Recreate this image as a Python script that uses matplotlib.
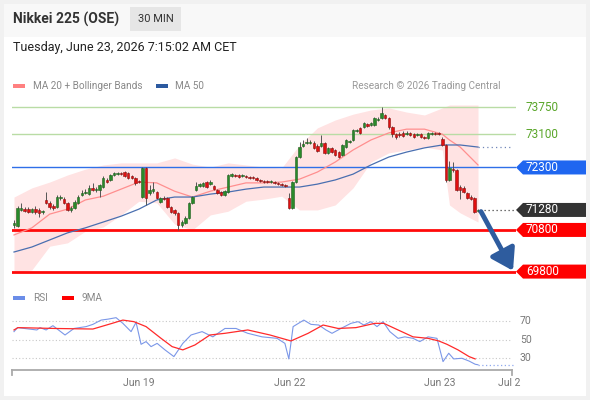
import matplotlib
matplotlib.use('Agg')
import matplotlib.pyplot as plt
from matplotlib.patches import Rectangle, Polygon
from matplotlib.lines import Line2D

plt.rcParams['font.family'] = ['Roboto', 'DejaVu Sans']

# ---------------- data ----------------
opens = [70920, 70890, 71280, 71300, 71300, 71230, 71300, 71280, 71230, 71520,
         71450, 71370, 71350, 71570, 71540, 71450, 71280, 71330, 71450, 71640,
         71690, 71660, 71810, 71760, 71760, 71830, 72000, 72000, 72120, 72140,
         72170, 72190, 72170, 72090, 72050, 71970, 71590, 72290, 71690, 71730,
         71710, 71470, 71570, 71570, 71350, 71280, 71210, 70920, 70970, 71090,
         71450, 71760, 71850, 71850, 71950, 71900, 71850, 71760, 71710, 71640,
         71710, 72090, 72120, 72120, 72090, 72090, 72070, 72070, 72050, 72000,
         71970, 71970, 71950, 71950, 71930, 71900, 71880, 71570, 71330, 71950,
         72550, 72810, 72890, 72890, 72890, 72810, 72810, 72890, 72650, 72770,
         72720, 72670, 72600, 72790, 72910, 72960, 73170, 73250, 73270, 73340,
         73320, 73320, 73440, 73490, 73560, 73490, 73270, 73100, 73100, 73130,
         73100, 73130, 73100, 73080, 73100, 73030, 73010, 73100, 73130, 73130,
         72980, 72840, 72000, 72260, 72240, 71830, 71810, 71690, 71590, 71570,
         71250]
closes = [70970, 71330, 71330, 71250, 71230, 71300, 71230, 71210, 71250, 71450,
          71350, 71330, 71590, 71590, 71450, 71280, 71330, 71470, 71590, 71690,
          71710, 71810, 71760, 71780, 71880, 72050, 71950, 72120, 72170, 72170,
          72140, 72090, 72050, 72050, 71930, 71950, 72290, 71570, 71760, 71780,
          71570, 71570, 71540, 71350, 71230, 71210, 70920, 70990, 71090, 71450,
          71590, 71850, 71900, 71930, 71830, 71950, 71780, 71690, 71640, 71730,
          72120, 72140, 72090, 72070, 72120, 72070, 72050, 72050, 72000, 71970,
          71950, 71950, 71970, 71930, 71900, 71880, 71850, 71330, 71950, 72550,
          72790, 72860, 72910, 72910, 72770, 72690, 72890, 72650, 72770, 72670,
          72600, 72550, 72840, 72960, 72930, 73200, 73200, 73130, 73370, 73290,
          73370, 73490, 73460, 73610, 73490, 73270, 73100, 73030, 73080, 73050,
          73130, 73080, 73030, 73100, 73030, 73010, 73130, 73130, 73100, 73100,
          72840, 72000, 72290, 72240, 71760, 71760, 71710, 71570, 71540, 71230,
          71280]
highs = [71040, 71370, 71450, 71350, 71350, 71330, 71370, 71330, 71280, 71710,
         71490, 71420, 71640, 71640, 71590, 71470, 71370, 71520, 71640, 71760,
         71780, 71880, 71930, 71830, 71900, 72090, 72050, 72140, 72190, 72190,
         72190, 72210, 72190, 72120, 72070, 72000, 72310, 72310, 71880, 71950,
         71730, 71590, 71610, 71590, 71370, 71300, 71230, 71040, 71130, 71470,
         71610, 71950, 71930, 71950, 71970, 72000, 71880, 71780, 71730, 71760,
         72140, 72170, 72140, 72140, 72140, 72120, 72090, 72090, 72070, 72020,
         72000, 72000, 72000, 71970, 71950, 71930, 71900, 71690, 71970, 72570,
         72910, 72960, 73010, 72960, 72930, 72860, 73080, 72910, 72790, 72790,
         72740, 72690, 72860, 72980, 72960, 73220, 73220, 73270, 73390, 73370,
         73390, 73510, 73510, 73750, 73580, 73510, 73290, 73130, 73150, 73170,
         73170, 73150, 73130, 73130, 73130, 73050, 73150, 73150, 73150, 73150,
         73030, 72860, 72450, 72430, 72260, 71880, 71850, 71710, 71640, 71590,
         71300]
lows = [70850, 70870, 71250, 71230, 71210, 71210, 71180, 71110, 71180, 71420,
        71300, 71280, 71330, 71520, 71420, 71250, 71230, 71300, 71420, 71610,
        71660, 71640, 71730, 71710, 71590, 71810, 71930, 71970, 72090, 72120,
        72120, 72070, 72020, 72020, 71880, 71930, 71570, 71400, 71640, 71690,
        71540, 71450, 71520, 71330, 71210, 71160, 70800, 70870, 70940, 71060,
        71420, 71730, 71830, 71830, 71810, 71880, 71760, 71660, 71610, 71610,
        71690, 72070, 72070, 72050, 72070, 72050, 72020, 72020, 71970, 71950,
        71930, 71930, 71930, 71900, 71880, 71850, 71830, 71300, 71300, 71930,
        72530, 72790, 72860, 72860, 72740, 72670, 72790, 72620, 72620, 72650,
        72570, 72530, 72570, 72770, 72890, 72930, 73150, 73100, 73250, 73270,
        73290, 73290, 73410, 73460, 73460, 73220, 73030, 72980, 73030, 73030,
        73080, 73050, 73010, 73050, 73010, 72980, 72980, 73080, 73080, 73080,
        72810, 71950, 71970, 72190, 71730, 71540, 71690, 71540, 71520, 71210,
        71230]

band_idx = [0, 5, 10, 15, 20, 25, 30, 35, 40, 45, 50, 55, 60, 65, 70, 75, 80,
            85, 90, 95, 100, 105, 110, 115, 120, 122, 125, 130]
ma20 = [70680, 70850, 71180, 71300, 71520, 71610, 71780, 71950, 71930, 71730,
        71590, 71730, 71830, 71930, 71930, 71950, 72020, 72190, 72430, 72720,
        72960, 73130, 73220, 73220, 73100, 72960, 72790, 72360]
ma50 = [70270, 70390, 70560, 70730, 70850, 70990, 71130, 71300, 71520, 71590,
        71590, 71660, 71710, 71780, 71830, 71830, 71830, 71900, 72000, 72140,
        72360, 72550, 72670, 72770, 72840, 72840, 72840, 72790]
bb_upper = [71590, 71810, 71950, 72120, 72260, 72360, 72410, 72410, 72410, 72530,
            72380, 72310, 72410, 72360, 72310, 72290, 72840, 73250, 73440, 73580,
            73680, 73730, 73630, 73560, 73730, 73800, 73800, 73800]
bb_lower = [69770, 69840, 70410, 70490, 70770, 70870, 71160, 71490, 71450, 70940,
            70800, 71160, 71250, 71490, 71540, 71610, 71280, 71280, 71400, 71810,
            72430, 72650, 72720, 72790, 72720, 71400, 71210, 70990]

rsi_idx = [0, 1, 4.2, 6.4, 7.3, 9, 10.9, 14.3, 16.8, 20.2, 22.1, 24.4, 26.3, 28.6,
           30.5, 32.8, 34.2, 35.6, 37, 38.4, 40.1, 42.3, 44.8, 47.3, 49.6, 52.7,
           55.7, 59.1, 62.2, 65.5, 69.5, 73.7, 75.9, 77, 78.2, 81.2, 83.2, 85.4,
           87.4, 89.1, 91.6, 94.4, 96.4, 98, 100, 101.7, 103.4, 105.3, 107.6,
           109.5, 111.8, 113.7, 116, 118.5, 120.2, 121.8, 123.2, 125.5, 127.5,
           129.2, 130]
rsi_vals = [58.6, 62.9, 61.4, 60.4, 62.9, 60.4, 65, 55, 62, 64, 66.4, 71, 72, 73.6,
            67.5, 58.6, 68.6, 45, 47.9, 42.5, 46, 39, 31.8, 46, 55, 58.6, 53, 62,
            62, 56.8, 53, 51.4, 46, 29.3, 64, 71, 66.4, 65.7, 60.4, 56.8, 62, 67.5,
            69.3, 65.7, 69.3, 64, 69.3, 58.6, 51.4, 53, 51.4, 47.9, 53, 51.4, 26.4,
            35.4, 29.3, 30, 27, 23.6, 23]
rsi_ma_idx = [0, 1.1, 11.5, 22.1, 27.5, 30.5, 33.6, 37, 41.2, 44.3, 47.3, 50.7,
              54.9, 59.1, 65.5, 71.7, 77.6, 82.4, 86.6, 90.8, 95.8, 101.1, 103.6,
              107.6, 111.8, 116, 119, 121.3, 124.4, 127.5, 129.2]
rsi_ma_vals = [60.4, 62.9, 62, 61.4, 67.5, 71, 69.3, 64, 51.4, 42.5, 39, 44.3, 55,
               56.8, 60.4, 55, 48.6, 56.8, 65.7, 62, 62.9, 67.5, 67.5, 60.4, 53,
               51.4, 48.6, 45, 39, 31.8, 29.3]

resist_levels = [73750, 73100]
pivot_level = 72300
support_levels = [70800, 69800]
last_price = 71280
rsi_levels = [70, 50, 30]
date_labels = ['Jun 19', 'Jun 22', 'Jun 23', 'Jul 2']
date_pos = [35, 77.3, 119.4, 138.7]

# ---------------- layout ----------------
W, H = 590, 400
fig = plt.figure(figsize=(W / 100, H / 100), dpi=100)
fig.patch.set_facecolor('#f1f1f1')


def fx(px):
    return px / W


def fy(py):
    return 1 - py / H


fig.add_artist(Rectangle((fx(4), fy(396)), fx(582), (396 - 37) / H,
                         transform=fig.transFigure, facecolor='white', lw=0, zorder=0))
fig.add_artist(Rectangle((fx(4), fy(37)), fx(582), 33 / H,
                         transform=fig.transFigure, facecolor='#f8f8f8', lw=0, zorder=0))

fig.text(fx(13), fy(19), 'Nikkei 225 (OSE)', fontsize=10, fontweight='bold',
         color='#333333', va='center', ha='left')
fig.add_artist(Rectangle((fx(130), fy(31)), fx(51), 24 / H, transform=fig.transFigure,
                         facecolor='#e6e6e6', lw=0, zorder=1))
fig.text(fx(155.5), fy(19), '30 MIN', fontsize=8, color='#333333', va='center', ha='center')
fig.text(fx(13), fy(48), 'Tuesday, June 23, 2026 7:15:02 AM CET', fontsize=9,
         color='#222222', va='center', ha='left')

# legends
fig.add_artist(Rectangle((fx(13), fy(88)), fx(12), 4 / H, transform=fig.transFigure,
                         facecolor='#ff8080', lw=0))
fig.text(fx(33), fy(86), 'MA 20 + Bollinger Bands', fontsize=7.2, color='#888888', va='center')
fig.add_artist(Rectangle((fx(156), fy(88)), fx(12), 4 / H, transform=fig.transFigure,
                         facecolor='#2c5aa0', lw=0))
fig.text(fx(175), fy(86), 'MA 50', fontsize=7.2, color='#888888', va='center')
fig.text(fx(500), fy(86), 'Research © 2026 Trading Central', fontsize=7.2,
         color='#999999', va='center', ha='right')

fig.add_artist(Rectangle((fx(13), fy(300)), fx(12), 4 / H, transform=fig.transFigure,
                         facecolor='#6b8de8', lw=0))
fig.text(fx(33), fy(298), 'RSI', fontsize=7.2, color='#888888', va='center')
fig.add_artist(Rectangle((fx(62), fy(300)), fx(12), 4 / H, transform=fig.transFigure,
                         facecolor='#ff0000', lw=0))
fig.text(fx(82), fy(298), '9MA', fontsize=7.2, color='#888888', va='center')

N = len(closes)
pitch = (478 - 14) / (N - 1)

# ---------------- main price axes ----------------
ax = fig.add_axes([fx(12), fy(282), (516 - 12) / W, (282 - 95) / H])
ax.set_facecolor('none')
ax.axis('off')
x_left = -(14 - 12) / pitch
x_right = (N - 1) + (516 - 478) / pitch
ax.set_xlim(x_left, x_right)
ax.set_ylim(69550, 74040)

ax.fill_between(band_idx, bb_lower, bb_upper, color='#ffe3e3', lw=0, zorder=0.5)
ax.plot(band_idx, ma20, color='#ff8f8f', lw=0.9, zorder=2)
ax.plot(band_idx, ma50, color='#4a6fb0', lw=0.9, zorder=2)
ax.plot([band_idx[-1], (N - 1) + (513 - 478) / pitch], [ma50[-1]] * 2,
        ls=(0, (1, 2.5)), color='#7086b8', lw=0.9, zorder=2)

for lv in resist_levels:
    ax.axhline(lv, color='#b9dca5', lw=1.0, zorder=1)
ax.axhline(pivot_level, color='#2f6fe8', lw=1.0, zorder=1)
for lv in support_levels:
    ax.axhline(lv, color='#ff0a0a', lw=2.0, zorder=1)

for i in range(N):
    o, c, h, l = opens[i], closes[i], highs[i], lows[i]
    up = c >= o
    body = '#2a8a2a' if up else '#e01010'
    edge = '#1f5f1f' if up else '#8a1010'
    ax.vlines(i, l, h, color='#555555', lw=0.7, zorder=3)
    ax.bar(i, max(abs(c - o), 8), bottom=min(o, c), width=0.7, color=body,
           edgecolor=edge, lw=0.4, zorder=4)

ax.plot([N - 1 + 0.6, x_right], [last_price, last_price], ls=(0, (1, 2.2)),
        color='#444444', lw=0.9, zorder=2)

ax.annotate('', xy=((N - 1) + (513 - 478) / pitch, support_levels[1] + 20),
            xytext=((N - 1) + (481 - 478) / pitch, last_price - 40),
            arrowprops=dict(arrowstyle='-|>,head_width=0.45,head_length=0.7',
                            lw=3.5, color='#2e5c9e', shrinkA=0, shrinkB=0,
                            mutation_scale=18),
            zorder=6, annotation_clip=False)

fig.canvas.draw()
inv = fig.transFigure.inverted()


def price_to_py(p):
    disp = ax.transData.transform((0, p))
    return H - disp[1]


def tag(p, face, text_color='white'):
    py = price_to_py(p)
    pts = [(516, py), (523, py - 7), (586, py - 7), (586, py + 7), (523, py + 7)]
    poly = Polygon([(fx(a), fy(b)) for a, b in pts], closed=True,
                   transform=fig.transFigure, facecolor=face, lw=0, zorder=5)
    fig.add_artist(poly)
    fig.text(fx(526), fy(py), f'{p}', fontsize=8.5, color=text_color,
             va='center', ha='left', zorder=6)


for lv in resist_levels:
    fig.text(fx(526), fy(price_to_py(lv)), f'{lv}', fontsize=8.5, color='#5aa62a',
             va='center', ha='left')
tag(pivot_level, '#1f66f0')
tag(last_price, '#333333')
for lv in support_levels:
    tag(lv, '#ff0000')

# ---------------- RSI axes ----------------
rx = fig.add_axes([fx(12), fy(370), 500 / W, 65 / H])
rx.set_facecolor('none')
rx.set_xlim(x_left, (N - 1) + (512 - 478) / pitch)
rx.set_ylim(17.4, 87.2)
for s in ['top', 'left', 'right']:
    rx.spines[s].set_visible(False)
rx.spines['bottom'].set_color('#aaaaaa')
rx.spines['bottom'].set_linewidth(1.3)
rx.set_yticks([])
rx.set_xticks(date_pos)
rx.set_xticklabels(date_labels)
rx.tick_params(axis='x', length=0, pad=6, labelsize=7.5, labelcolor='#777777')

for lv in rsi_levels:
    rx.axhline(lv, color='#c8c8c8', ls=(0, (1, 2)), lw=0.8, zorder=1)
    disp = rx.transData.transform((0, lv))
    fig.text(fx(520), disp[1] / H, f'{lv}', fontsize=7.5, color='#777777',
             va='center', ha='left')

rx.plot(rsi_idx, rsi_vals, color='#7b97e8', lw=0.8, zorder=3)
rx.plot(rsi_ma_idx, rsi_ma_vals, color='#ff2a2a', lw=0.9, zorder=3)
rx.plot([rsi_idx[-1], (N - 1) + (513 - 478) / pitch], [rsi_vals[-1]] * 2,
        ls=(0, (1, 2)), color='#8fa8ee', lw=0.9, zorder=3, clip_on=False)

for px in (12, 512):
    fig.add_artist(Line2D([fx(px), fx(px)], [fy(370), fy(375)], transform=fig.transFigure,
                          color='#aaaaaa', lw=1.3))

fig.savefig('out.png', dpi=100, facecolor=fig.get_facecolor())
